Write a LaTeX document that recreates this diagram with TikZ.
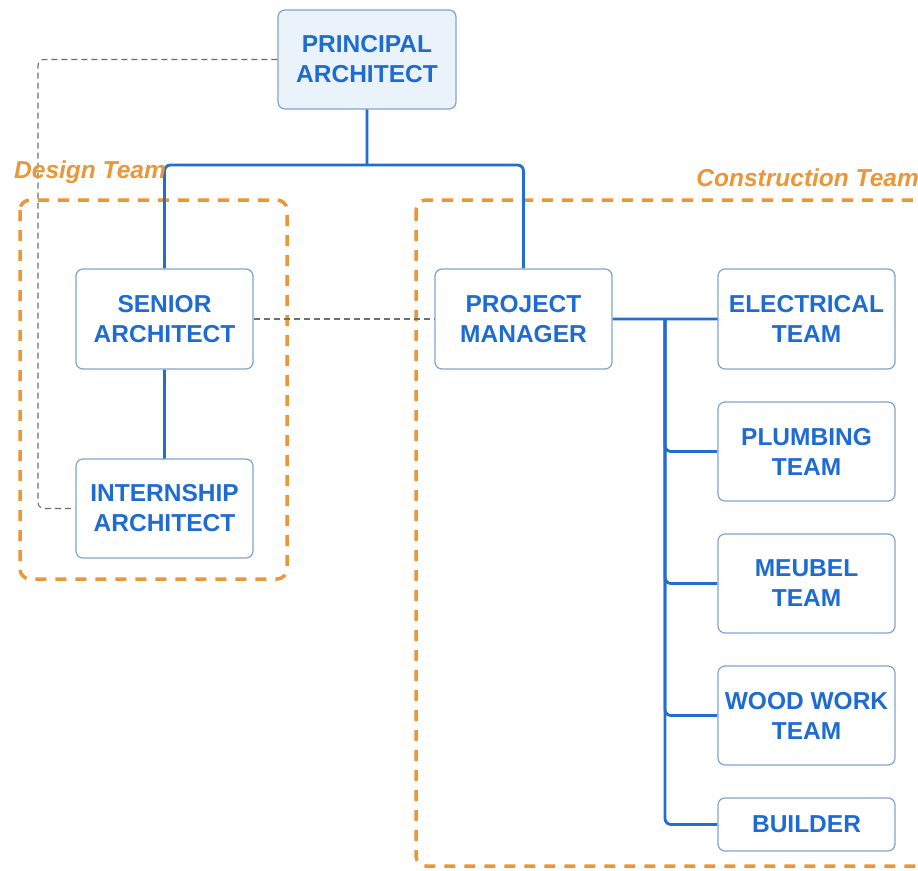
\documentclass[tikz,border=0pt]{standalone}
\usepackage{fontspec}
\setmainfont{Liberation Sans}
\definecolor{txtblue}{RGB}{30,108,210}
\definecolor{lineblue}{RGB}{32,110,205}
\definecolor{boxborder}{RGB}{128,165,205}
\definecolor{boxfill}{RGB}{234,243,251}
\definecolor{teamorange}{RGB}{235,150,55}
\definecolor{dashgray}{RGB}{110,110,110}
\pgfdeclarelayer{bglayer}
\pgfdeclarelayer{connlayer}
\pgfsetlayers{bglayer,connlayer,main}
\begin{document}
\begin{tikzpicture}[x=1pt,y=-1pt,
  role/.style={draw=boxborder, line width=1.2pt, rounded corners=7pt, fill=white,
    text=txtblue, font=\fontsize{24.5}{30}\selectfont\bfseries, align=center,
    inner sep=0pt, minimum width=177pt, minimum height=100pt},
  tree/.style={draw=lineblue, line width=2.8pt, rounded corners=6pt},
  straightline/.style={draw=lineblue, line width=2.8pt},
  link/.style={draw=dashgray, line width=1.1pt, dash pattern=on 6pt off 4pt, rounded corners=6pt},
  team/.style={draw=teamorange, line width=3.5pt, dash pattern=on 11pt off 9pt, rounded corners=10pt},
  teamlabel/.style={text=teamorange, font=\fontsize{24.5}{29}\selectfont\bfseries\itshape, inner sep=0pt}
]
\useasboundingbox (0,0) rectangle (918,870);

% nodes
\node[role, fill=boxfill, minimum width=178pt, minimum height=99pt] (pa) at (367,59.5) {PRINCIPAL\\ARCHITECT};
\node[role] (sa) at (164.5,319) {SENIOR\\ARCHITECT};
\node[role, minimum height=99pt] (ia) at (164.5,508.5) {INTERNSHIP\\ARCHITECT};
\node[role] (pm) at (523.5,319) {PROJECT\\MANAGER};
\node[role] (el) at (806.5,319) {ELECTRICAL\\TEAM};
\node[role, minimum height=99pt] (pl) at (806.5,451.5) {PLUMBING\\TEAM};
\node[role, minimum height=99pt] (me) at (806.5,583.5) {MEUBEL\\TEAM};
\node[role, minimum height=99pt] (ww) at (806.5,715.5) {WOOD WORK\\TEAM};
\node[role, minimum height=53pt] (bu) at (806.5,824.5) {BUILDER};

\node[teamlabel, anchor=west] (dlabel) at (14,172) {Design Team};
\node[teamlabel, anchor=east] (clabel) at (919,178) {Construction Team};

\begin{pgfonlayer}{bglayer}
\fill[white] (0,0) rectangle (918,870);
% team frames
\draw[team] (20,200) rectangle (287,579);
\draw[team] (416,200) rectangle (940,866);
\end{pgfonlayer}

\begin{pgfonlayer}{connlayer}
% dashed links
\coordinate (lx) at (38,0);
\draw[link] (pa.west) -| (lx |- ia.west) -- (ia.west);
\draw[link] (sa.east) -- (pm.west);

% tree connectors (short tails hidden inside the boxes)
\coordinate (jn) at (367,165);
\coordinate (bus) at (665,319);
\draw[straightline] ([shift={(0.3,-10)}]pa.south) -- (pa.south) -- (jn);
\draw[tree] (sa.north) |- (jn) -| (pm.north);
\draw[straightline] (sa.south) -- (ia.north) -- ++(0.3,10);
\draw[straightline] (pm.east) -- (el.west) -- ++(10,0.3);
\draw[tree] (bus) |- (pl.west);
\draw[tree] (bus) |- (me.west);
\draw[tree] (bus) |- (ww.west);
\draw[tree] (bus) |- (bu.west);
\end{pgfonlayer}
\end{tikzpicture}
\end{document}
